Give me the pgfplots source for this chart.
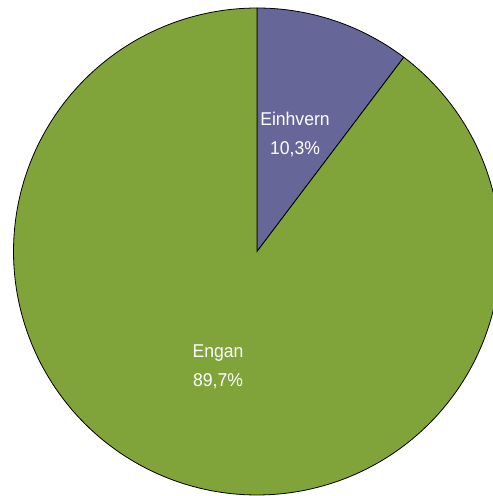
\documentclass[border=0pt]{standalone}
\usepackage{fontspec}
\setmainfont{Liberation Sans}
\newfontfamily\labelfont[FakeStretch=0.95]{Liberation Sans}
\usepackage{pgfplots}
\pgfplotsset{compat=1.18}
\definecolor{slicepurple}{HTML}{666699}
\definecolor{slicegreen}{HTML}{80A43A}
\begin{document}
\begin{tikzpicture}
\begin{axis}[
  width=493pt, height=496pt, scale only axis,
  xmin=0, xmax=493, ymin=0, ymax=496,
  hide axis, clip=true,
]
% values in percent: Einhvern 10.3, Engan 89.7 (starting at 12 o'clock, clockwise)
\addplot[fill=slicepurple, draw=black, line width=0.8pt, domain=0:10.3, samples=40, variable=\t]
  ({257+243.5*sin(3.6*\t)},{244.5+243.5*cos(3.6*\t)}) -- (axis cs:257,244.5) -- cycle;
\addplot[fill=slicegreen, draw=black, line width=0.8pt, domain=10.3:100, samples=240, variable=\t]
  ({257+243.5*sin(3.6*\t)},{244.5+243.5*cos(3.6*\t)}) -- (axis cs:257,244.5) -- cycle;
\node[white, anchor=base, font=\labelfont\fontsize{18.5}{20}\selectfont] at (axis cs:295,370) {Einhvern};
\node[white, anchor=base, font=\labelfont\fontsize{18.5}{20}\selectfont] at (axis cs:295,341) {10,3\%};
\node[white, anchor=base, font=\labelfont\fontsize{18.5}{20}\selectfont] at (axis cs:218,138) {Engan};
\node[white, anchor=base, font=\labelfont\fontsize{18.5}{20}\selectfont] at (axis cs:218,109) {89,7\%};
\end{axis}
\pgfresetboundingbox
\path[use as bounding box] (current axis.south west) rectangle (current axis.north east);
\end{tikzpicture}
\end{document}
